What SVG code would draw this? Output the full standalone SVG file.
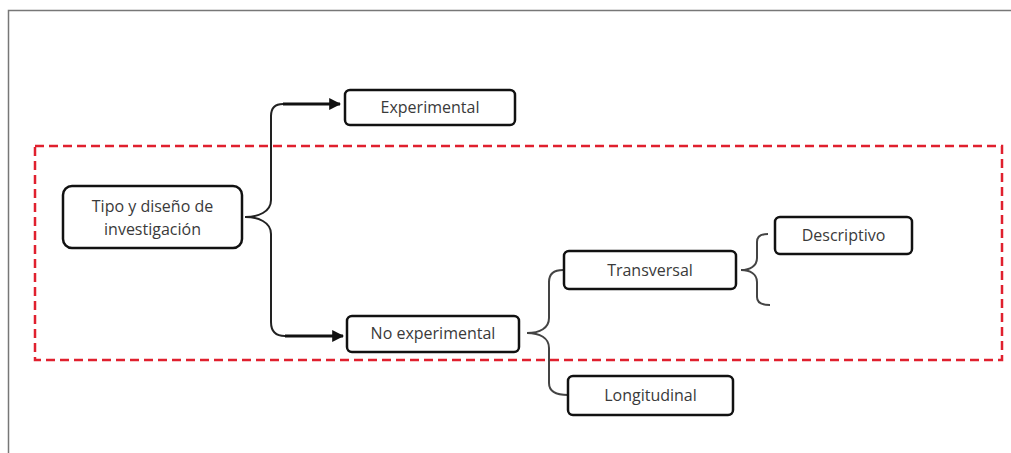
<svg xmlns="http://www.w3.org/2000/svg" width="1011" height="453" viewBox="0 0 1011 453">
<defs>
<style>
.box{fill:#fff;stroke:#111;stroke-width:2.5}
.lbl{font-family:"Open Sans","Liberation Sans",sans-serif;font-size:16px;fill:#3a3a3a;text-anchor:middle}
.con{fill:none;stroke:#222;stroke-width:2}
.thick{fill:none;stroke:#111;stroke-width:3}
.brace{fill:none;stroke:#444;stroke-width:2}
</style>
<marker id="ah" viewBox="0 0 10 10" refX="9" refY="5" markerWidth="4" markerHeight="4" orient="auto" markerUnits="strokeWidth">
<path d="M0,0 L10,5 L0,10 z" fill="#111"/>
</marker>
</defs>
<rect width="1011" height="453" fill="#fff"/>
<path d="M8.5,453 V10.5 H1011" fill="none" stroke="#777" stroke-width="1.5"/>
<rect x="35" y="146" width="967" height="214" fill="none" stroke="#e0202e" stroke-width="2.5" stroke-dasharray="9,5"/>
<g id="connectors">
<path class="con" d="M245,217 C258,217 271,212 271,200 V116 Q271,104 283,104"/>
<path class="thick" d="M283,104 H340" marker-end="url(#ah)"/>
<path class="con" d="M245,217 C258,217 271,222 271,234 V322 Q271,336 285,336"/>
<path class="thick" d="M285,336 H343" marker-end="url(#ah)"/>
<path class="brace" d="M527,333 C540,333 549,328 549,318 V282 Q549,270 563,270"/>
<path class="brace" d="M527,333 C540,333 549,338 549,348 V383 Q549,395 568,395"/>
<path class="brace" d="M741,270 C750,270 757,266 757,258 V242 Q757,234 768,234"/>
<path class="brace" d="M741,270 C750,270 757,274 757,282 V297 Q757,305 770,305"/>
</g>
<g id="experimental">
<rect class="box" x="345" y="90" width="170" height="35" rx="5"/>
<text class="lbl" x="430" y="113">Experimental</text>
</g>
<g id="tipo">
<rect class="box" x="63" y="186" width="179" height="62" rx="9"/>
<text class="lbl" x="152.5" y="212">Tipo y diseño de</text>
<text class="lbl" x="152.5" y="235">investigación</text>
</g>
<g id="no-experimental">
<rect class="box" x="347" y="316" width="172" height="36" rx="5"/>
<text class="lbl" x="433" y="339">No experimental</text>
</g>
<g id="transversal">
<rect class="box" x="564" y="251" width="172" height="38" rx="5"/>
<text class="lbl" x="650" y="276">Transversal</text>
</g>
<g id="descriptivo">
<rect class="box" x="775" y="217" width="137" height="37" rx="5"/>
<text class="lbl" x="843.5" y="241">Descriptivo</text>
</g>
<g id="longitudinal">
<rect class="box" x="568" y="376" width="165" height="39" rx="5"/>
<text class="lbl" x="650.5" y="401">Longitudinal</text>
</g>
</svg>
